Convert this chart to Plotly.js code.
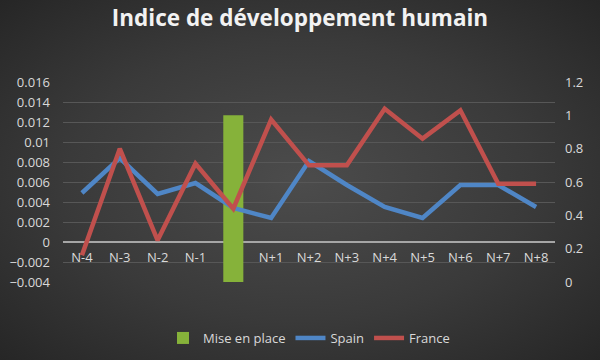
<!DOCTYPE html>
<html>
<head>
<meta charset="utf-8">
<script src="https://cdn.plot.ly/plotly-3.0.1.min.js"></script>
<style>
  html, body { margin: 0; padding: 0; }
  #chart {
    width: 600px; height: 360px;
    background: radial-gradient(ellipse at 50% 50%, #4c4c4c 0%, #3a3a3a 55%, #262626 100%);
  }
</style>
</head>
<body>
<div id="chart"></div>
<script>
const categories = ['N-4','N-3','N-2','N-1','N','N+1','N+2','N+3','N+4','N+5','N+6','N+7','N+8'];
const tickLabels = ['N-4','N-3','N-2','N-1','','N+1','N+2','N+3','N+4','N+5','N+6','N+7','N+8'];
const miseEnPlace = [null,null,null,null,1,null,null,null,null,null,null,null,null];
const spain = [0.0049,0.0084,0.0048,0.0059,0.0034,0.0024,0.0081,0.0057,0.0035,0.0024,0.0057,0.0057,0.0035];
const france = [0.16,0.80,0.25,0.71,0.44,0.975,0.70,0.70,1.04,0.86,1.03,0.59,0.59];

const txt = '#d9d9d9';
const fontFam = '"Open Sans", "DejaVu Sans", sans-serif';

const traces = [
  {type:'bar', name:'Mise en place', x:categories, y:miseEnPlace, yaxis:'y',
   marker:{color:'#86b23a'}, hoverinfo:'skip'},
  {type:'scatter', mode:'lines', name:'Spain', x:categories, y:spain, yaxis:'y2',
   line:{color:'#4f86c6', width:4.5}},
  {type:'scatter', mode:'lines', name:'France', x:categories, y:france, yaxis:'y3',
   line:{color:'#c0504d', width:4.5}}
];

const layout = {
  width:600, height:360,
  paper_bgcolor:'rgba(0,0,0,0)', plot_bgcolor:'rgba(0,0,0,0)',
  margin:{l:63, r:45, t:82, b:78, autoexpand:false},
  font:{family:fontFam, color:txt, size:13},
  title:{text:'<b>Indice de développement humain</b>', x:0.5, xanchor:'center',
         y:0.95, yanchor:'middle', yref:'container',
         font:{family:fontFam, size:22.5, color:'#f2f2f2'}},
  bargap:0.47,
  showlegend:true,
  legend:{orientation:'h', x:0.5, xanchor:'center', y:-0.28, yanchor:'middle',
          font:{size:13, color:txt}, bgcolor:'rgba(0,0,0,0)'},
  xaxis:{type:'category', range:[-0.5,12.5], anchor:'free', position:0.2,
         tickvals:categories, ticktext:tickLabels, showgrid:false, showline:false,
         zeroline:false, ticks:'', ticklabelstandoff:6, tickfont:{size:13, color:txt}},
  yaxis:{side:'right', range:[0,1.2], dtick:0.2, tick0:0, showgrid:false, zeroline:false,
         showline:false, ticks:'', ticklabelstandoff:9, tickfont:{size:13, color:txt}},
  yaxis2:{overlaying:'y', side:'left', range:[-0.004,0.016], dtick:0.002, tick0:0,
          showgrid:true, gridcolor:'#575757', gridwidth:1,
          zeroline:true, zerolinecolor:'#a6a6a6', zerolinewidth:1.5,
          showline:false, ticks:'', ticklabelstandoff:12, tickfont:{size:13, color:txt},
          tickformat:'~g'},
  yaxis3:{overlaying:'y', side:'right', range:[0,1.2], visible:false}
};

Plotly.newPlot('chart', traces, layout, {displayModeBar:false, staticPlot:true});
</script>
</body>
</html>
